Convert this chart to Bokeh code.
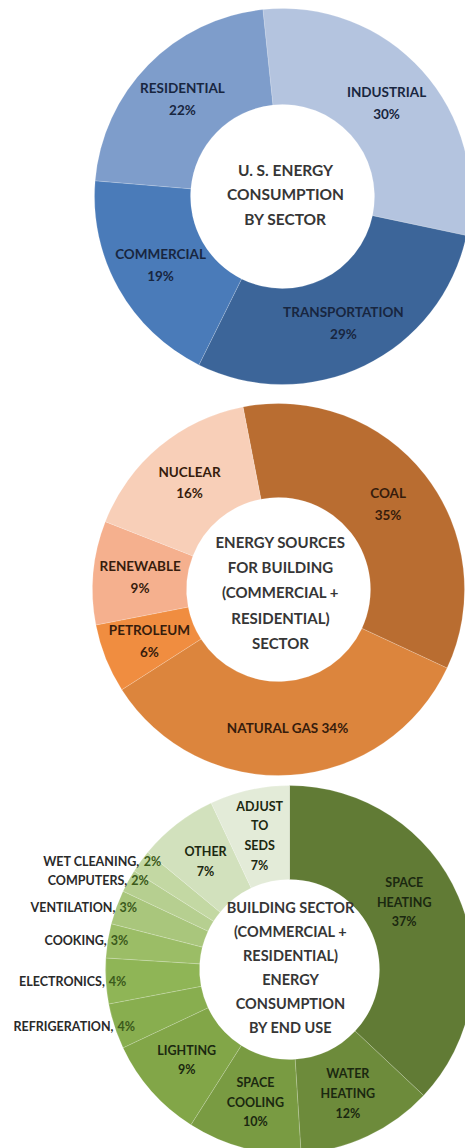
import numpy as np
from bokeh.plotting import figure
from bokeh.models import Range1d, ColumnDataSource
from bokeh.core.properties import value
from bokeh.embed import file_html
from bokeh.resources import INLINE

# ---------------- data ----------------
sector_labels = ["INDUSTRIAL", "TRANSPORTATION", "COMMERCIAL", "RESIDENTIAL"]
sector_values = [30, 29, 19, 22]
sector_colors = ["#b4c4df", "#3c6599", "#4a7bb9", "#7e9dcb"]

source_labels = ["COAL", "NATURAL GAS", "PETROLEUM", "RENEWABLE", "NUCLEAR"]
source_values = [35, 34, 6, 9, 16]
source_colors = ["#b96d31", "#dc853d", "#f08d40", "#f5b08e", "#f8cfb8"]

enduse_labels = ["SPACE HEATING", "WATER HEATING", "SPACE COOLING", "LIGHTING",
                 "REFRIGERATION", "ELECTRONICS", "COOKING", "VENTILATION",
                 "COMPUTERS", "WET CLEANING", "OTHER", "ADJUST TO SEDS"]
enduse_values = [37, 12, 10, 9, 4, 4, 3, 3, 2, 2, 7, 7]
enduse_colors = ["#617b35", "#6d8b3b", "#799b42", "#82a648", "#88ae4f", "#8fb556",
                 "#9bbd66", "#a9c67c", "#b6cf90", "#c3d8a3", "#d2e1bd", "#e3ebd8"]
enduse_outside = ["REFRIGERATION", "ELECTRONICS", "COOKING", "VENTILATION",
                  "COMPUTERS", "WET CLEANING"]

title1 = "U. S. ENERGY\nCONSUMPTION\nBY SECTOR"
title2 = "ENERGY SOURCES\nFOR BUILDING\n(COMMERCIAL +\nRESIDENTIAL)\nSECTOR"
title3 = "BUILDING SECTOR\n(COMMERCIAL +\nRESIDENTIAL)\nENERGY\nCONSUMPTION\nBY END USE"

# line-break styling of the in-slice labels
display_names = {
    "NATURAL GAS": "NATURAL GAS ",
    "SPACE HEATING": "SPACE\nHEATING\n",
    "WATER HEATING": "WATER\nHEATING\n",
    "SPACE COOLING": "SPACE\nCOOLING\n",
    "ADJUST TO SEDS": "ADJUST\nTO\nSEDS\n",
}
label_nudge = {"SPACE HEATING": (-11, -13)}

# ---------------- figure ----------------
W, H = 465, 1148
p = figure(width=W, height=H, x_range=Range1d(0, W), y_range=Range1d(0, H),
           output_backend="svg", toolbar_location=None, min_border=0)
p.axis.visible = False
p.grid.visible = False
p.outline_line_color = None
p.background_fill_color = "white"
p.border_fill_color = "white"

FONT = value("Lato")


def px(x):
    return x


def py(y):
    return H - y


def donut(cx, cy, R, r, start_deg, values, colors):
    vals = np.array(values, float)
    frac = vals / vals.sum()
    cum = np.concatenate([[0.0], np.cumsum(frac)])
    a0 = np.radians(start_deg)
    starts = a0 - cum[1:] * 2 * np.pi
    ends = a0 - cum[:-1] * 2 * np.pi
    src = ColumnDataSource(dict(start=starts, end=ends, color=colors))
    p.annular_wedge(x=px(cx), y=py(cy), inner_radius=r, outer_radius=R,
                    start_angle="start", end_angle="end", fill_color="color",
                    line_color="white", line_alpha=0.3, line_width=0.6, source=src)
    return (starts + ends) / 2


def inside_labels(cx, cy, rm, mids, labels, values, color, size, lh, skip=()):
    xs, ys, ts = [], [], []
    for lab, v, m in zip(labels, values, mids):
        if lab in skip:
            continue
        dx, dy = label_nudge.get(lab, (0, 0))
        xs.append(px(cx + rm * np.cos(m) + dx))
        ys.append(py(cy - rm * np.sin(m) + dy))
        ts.append(display_names.get(lab, lab + "\n") + f"{v}%")
    p.text(x=xs, y=ys, text=ts, text_align="center", text_baseline="middle",
           text_font=FONT, text_font_style="bold", text_font_size=size,
           text_color=color, text_line_height=lh)


def center_title(cx, cy, txt, size, lh):
    p.text(x=[px(cx)], y=[py(cy)], text=[txt], text_align="center",
           text_baseline="middle", text_font=FONT, text_font_style="bold",
           text_font_size=size, text_color="#363636", text_line_height=lh)


# ---- chart 1 ----
c1 = (282, 196, 188, 92)
m1 = donut(*c1, 96, sector_values, sector_colors)
inside_labels(c1[0], c1[1], (c1[2] + c1[3]) / 2, m1, sector_labels, sector_values,
              "#182640", "13.5px", 1.38)
center_title(c1[0] + 3, c1[1] - 2, title1, "15.5px", 1.35)

# ---- chart 2 ----
c2 = (278, 589, 186, 92)
m2 = donut(*c2, 101, source_values, source_colors)
inside_labels(c2[0], c2[1], (c2[2] + c2[3]) / 2, m2, source_labels, source_values,
              "#361c0c", "13.5px", 1.33)
center_title(c2[0] + 2, c2[1] + 3, title2, "15px", 1.4)

# ---- chart 3 ----
c3 = (289, 969, 184, 90)
m3 = donut(*c3, 90, enduse_values, enduse_colors)
inside_labels(c3[0], c3[1], (c3[2] + c3[3]) / 2, m3, enduse_labels, enduse_values,
              "#1b2810", "12.5px", 1.32, skip=enduse_outside)
center_title(c3[0] + 1, c3[1] - 2, title3, "14.5px", 1.41)

# outside labels of the small slices (name dark, percentage dark green)
nx, ny, nt, qx, qt = [], [], [], [], []
for lab, v, m in zip(enduse_labels, enduse_values, m3):
    if lab not in enduse_outside:
        continue
    edge_x = c3[0] + c3[2] * np.cos(m)
    edge_y = c3[1] - c3[2] * np.sin(m)
    right = edge_x + 20
    pct_w = 17
    nx.append(px(right - pct_w - 4))
    ny.append(py(edge_y))
    nt.append(lab + ",")
    qx.append(px(right - pct_w))
    qt.append(f"{v}%")
p.text(x=nx, y=ny, text=nt, text_align="right", text_baseline="middle",
       text_font=FONT, text_font_style="bold", text_font_size="12.5px",
       text_color="#2a2a2a")
p.text(x=qx, y=ny, text=qt, text_align="left", text_baseline="middle",
       text_font=FONT, text_font_style="bold", text_font_size="12.5px",
       text_color="#3b5a1b")

open("out.html", "w").write(file_html(p, INLINE))
